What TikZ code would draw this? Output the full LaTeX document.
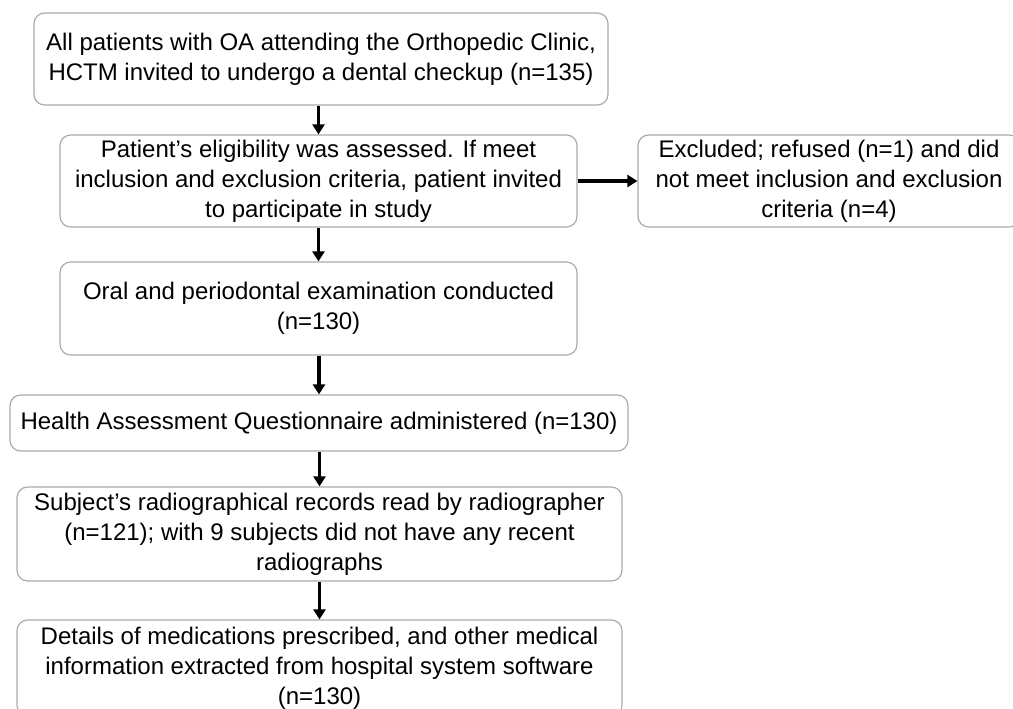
\documentclass[tikz,border=0pt]{standalone}
\usepackage{fontspec}
\setmainfont{Liberation Sans}
\usetikzlibrary{arrows.meta}
\definecolor{boxgray}{RGB}{170,170,170}

\begin{document}
\begin{tikzpicture}[x=0.75pt, y=-0.75pt,
    flowbox/.style={draw=boxgray, line width=0.9pt, rounded corners=8pt,
        align=center, inner sep=0pt, font=\fontsize{18}{22.5}\selectfont},
    flowarrow/.style={-{Triangle[length=7.5pt,width=9pt]}, line width=2.6pt}]
    \useasboundingbox (0,0) rectangle (1013,709);
    \clip (0,0) rectangle (1013,709);
    \node[flowbox, minimum width=430.5pt, minimum height=69pt] (invite) at (321,59)
        {All patients with OA attending the Orthopedic Clinic,\\HCTM invited to undergo a dental checkup (n=135)};
    \node[flowbox, minimum width=387.75pt, minimum height=69pt] (elig) at (318.5,181)
        {Patient’s eligibility was assessed. If meet\\inclusion and exclusion criteria, patient invited\\to participate in study};
    \node[flowbox, minimum width=286.5pt, minimum height=69pt] (excl) at (829,181)
        {Excluded; refused (n=1) and did\\not meet inclusion and exclusion\\criteria (n=4)};
    \node[flowbox, minimum width=387.75pt, minimum height=69.75pt] (exam) at (318.5,308.5)
        {Oral and periodontal examination conducted\\(n=130)};
    \node[flowbox, minimum width=463.5pt, minimum height=42pt] (haq) at (319,423)
        {Health Assessment Questionnaire administered (n=130)};
    \node[flowbox, minimum width=453.75pt, minimum height=70.5pt] (xray) at (319.5,534)
        {Subject’s radiographical records read by radiographer\\(n=121); with 9 subjects did not have any recent\\radiographs};
    \node[flowbox, minimum width=453.75pt, minimum height=72pt] (meds) at (319.5,668)
        {Details of medications prescribed, and other medical\\information extracted from hospital system software\\(n=130)};
    % connectors
    \foreach \from/\to in {invite/elig, elig/exam, exam/haq, haq/xray, xray/meds}
        \draw[flowarrow] (\to.north |- \from.south) -- (\to.north);
    \draw[flowarrow] (elig.east) -- (excl.west);
\end{tikzpicture}
\end{document}
